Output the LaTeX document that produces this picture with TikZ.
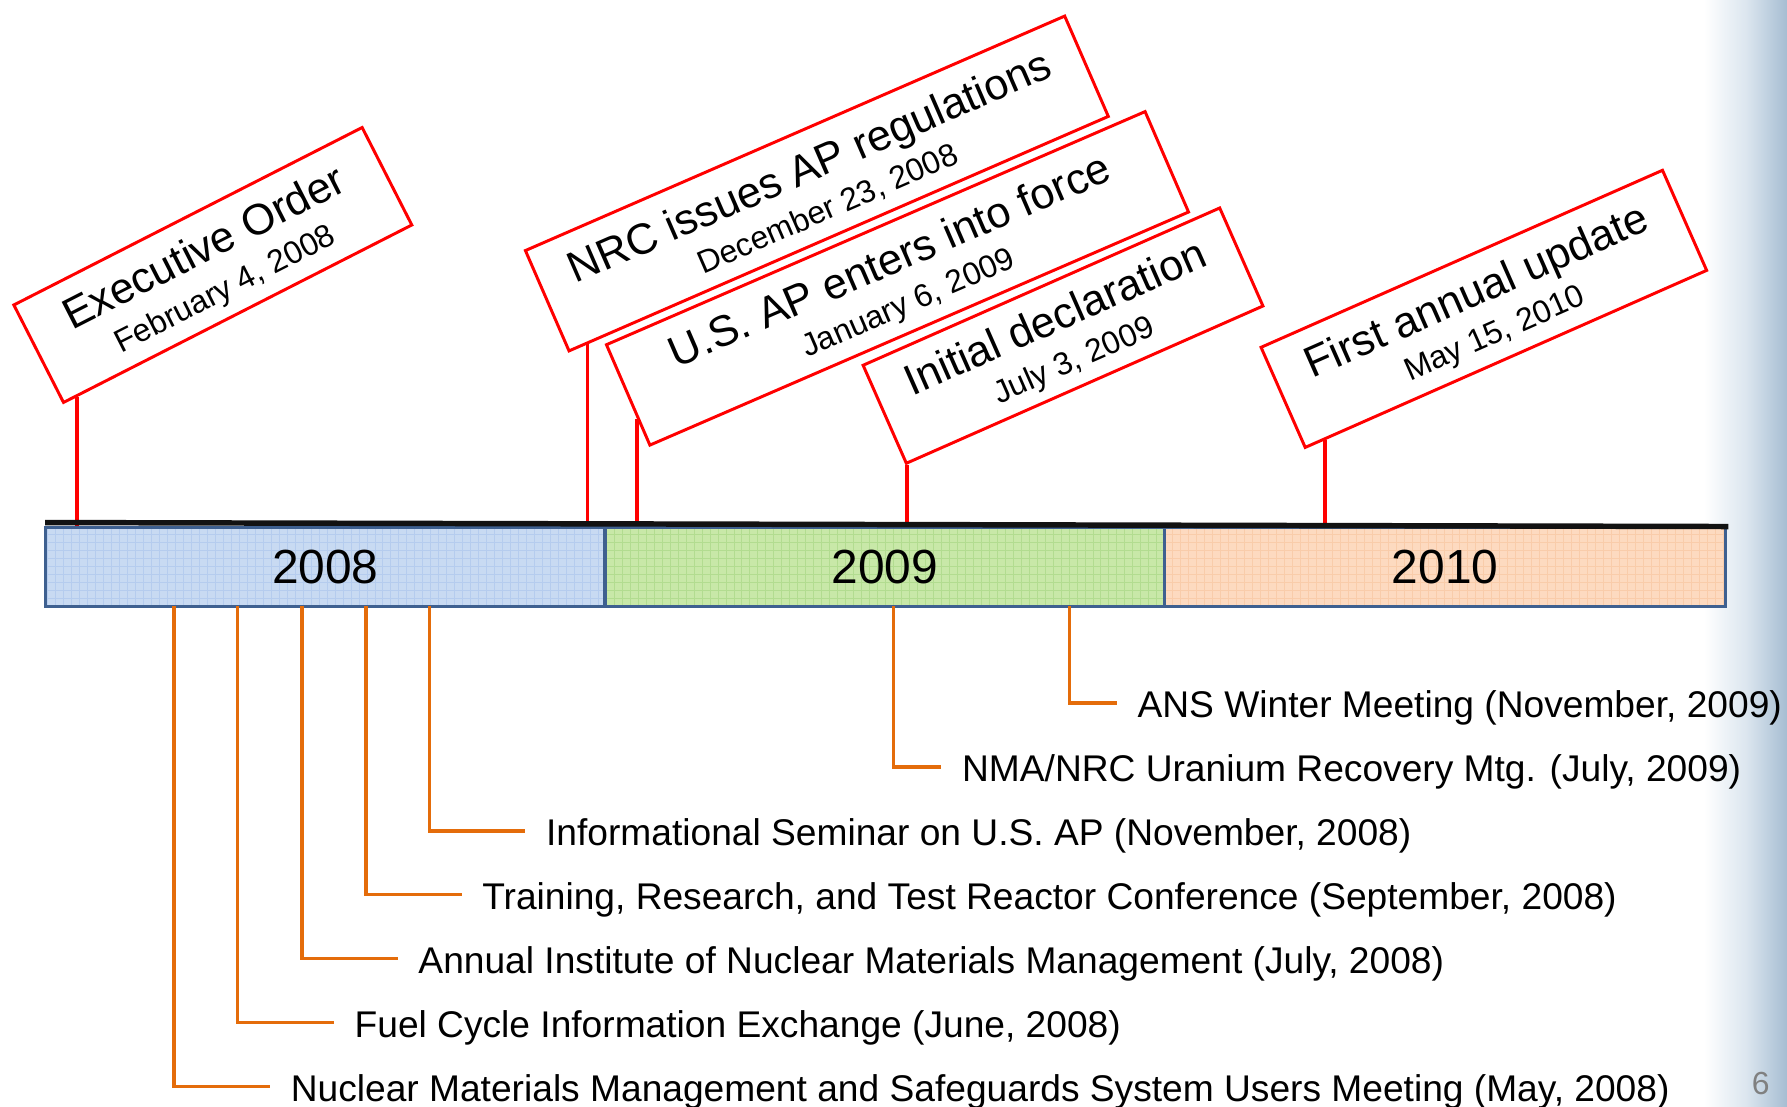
\documentclass[tikz,border=0pt]{standalone}
\usepackage{fontspec}
\setmainfont{Liberation Sans}
\usetikzlibrary{calc}
\definecolor{evred}{HTML}{FF0000}
\definecolor{evorange}{HTML}{E46C0A}
\definecolor{barblue}{HTML}{3E6090}
\definecolor{fillA}{HTML}{C8DAF2}
\definecolor{gridA}{HTML}{B5CCEE}
\definecolor{fillB}{HTML}{C8E8A8}
\definecolor{gridB}{HTML}{B2DC90}
\definecolor{fillC}{HTML}{FDDAC0}
\definecolor{gridC}{HTML}{F9CCAA}
\definecolor{sideA}{HTML}{DCE6EF}
\definecolor{sideB}{HTML}{A6BDD2}
\newcommand\boxlines[2]{{\fontsize{38}{37}\selectfont #1}\\#2}
\begin{document}
\begin{tikzpicture}[x=1pt,y=-1pt,
  evbox/.style={draw=evred, line width=2.6pt, fill=white, minimum height=96pt, inner sep=0pt},
  boxtext/.style={inner sep=0pt, align=center, font=\fontsize{28}{37}\selectfont},
  stemline/.style={draw=evred, line width=3pt},
  yearbox/.style={draw=barblue, line width=3pt, minimum height=69pt, minimum width=491pt, inner sep=0pt, font=\fontsize{42}{42}\selectfont},
  evtext/.style={anchor=west, inner xsep=18pt, inner ysep=0pt, text height=26pt, text depth=0pt, font=\fontsize{32.6}{32.6}\selectfont},
  conn/.style={draw=evorange, line width=3pt},
  gridline/.style={line width=0.8pt},
]
\useasboundingbox (0,0) rectangle (1568,971);
\fill[white] (0,0) rectangle (1568,971);
% side gradient
\shade[left color=white, right color=sideA] (1495,0) rectangle (1532,971);
\shade[left color=sideA, right color=sideB] (1532,0) rectangle (1568,971);

% bar fills
\fill[fillA] (40,463) rectangle (531,532);
\draw[gridA, gridline] (40,463) grid[step=7pt] (531,532);
\fill[fillB] (531,463) rectangle (1022,532);
\draw[gridB, gridline] (531,463) grid[step=7pt] (1022,532);
\fill[fillC] (1022,463) rectangle (1514,532);
\draw[gridC, gridline] (1022,463) grid[step=7pt] (1514,532);

\node[yearbox] (y2008) at (285.5,497.5) {2008};
\node[yearbox] (y2009) at (776.5,497.5) {2009};
\node[yearbox, minimum width=492pt] (y2010) at (1268,497.5) {2010};

% lower events
\node[evtext] (ev7) at (980,617) {ANS Winter Meeting (November, 2009)};
\node[evtext] (ev6) at (826,673) {NMA/NRC Uranium Recovery Mtg. (July, 2009)};
\node[evtext] (ev5) at (461,729) {Informational Seminar on U.S. AP (November, 2008)};
\node[evtext] (ev4) at (405,785) {Training, Research, and Test Reactor Conference (September, 2008)};
\node[evtext] (ev3) at (349,841) {Annual Institute of Nuclear Materials Management (July, 2008)};
\node[evtext] (ev2) at (293,897) {Fuel Cycle Information Exchange (June, 2008)};
\node[evtext] (ev1) at (237,953.5) {Nuclear Materials Management and Safeguards System Users Meeting (May, 2008)};

\coordinate (b1) at (152.6,532);
\coordinate (b2) at (208.5,532);
\coordinate (b3) at (265,532);
\coordinate (b4) at (321,532);
\coordinate (b5) at (377,532);
\coordinate (b6) at (784.2,532);
\coordinate (b7) at (938.5,532);
\draw[conn] (b1) |- (ev1.west);
\draw[conn] (b2) |- (ev2.west);
\draw[conn] (b3) |- (ev3.west);
\draw[conn] (b4) |- (ev4.west);
\draw[conn] (b5) |- (ev5.west);
\draw[conn] (b6) |- (ev6.west);
\draw[conn] (b7) |- (ev7.west);

% upper event boxes
\node[evbox, rotate=27, minimum width=343pt] (exec) at (186.75,232.5) {};
\node[evbox, rotate=23.5, minimum width=516pt] (nrc) at (716.75,161) {};
\node[evbox, rotate=23.4, minimum width=515pt] (usap) at (787.5,244.25) {};
\node[evbox, rotate=23.8, minimum width=342pt, minimum height=94pt] (init) at (932.75,294.5) {};
\node[evbox, rotate=23.8, minimum width=385pt] (first) at (1302,271) {};

\node[boxtext, rotate=27] (execT) at ($(exec.center)!3pt!(exec.south)$) {\boxlines{Executive Order}{February 4, 2008}};
\node[boxtext, rotate=23.5] (nrcT) at ($(nrc.center)!3pt!(nrc.south)$) {\boxlines{NRC issues AP regulations}{December 23, 2008}};
\node[boxtext, rotate=23.4] (usapT) at ($(usap.center)!3pt!(usap.south)$) {\boxlines{U.S. AP enters into force}{January 6, 2009}};
\node[boxtext, rotate=23.8] (initT) at ($(init.center)!3pt!(init.south)$) {\boxlines{Initial declaration}{July 3, 2009}};
\node[boxtext, rotate=23.8] (firstT) at ($(first.center)!3pt!(first.south)$) {\boxlines{First annual update}{May 15, 2010}};

\coordinate (eTop) at ($(exec.south west)!0.04!(exec.south east)$);
\coordinate (nTop) at ($(nrc.south west)!0.036!(nrc.south east)$);
\coordinate (uTop) at ($(usap.north west)!0.726!(usap.south west)$);
\coordinate (iTop) at ($(init.south west)!0.004!(init.south east)$);
\coordinate (fTop) at ($(first.south west)!0.051!(first.south east)$);
\draw[stemline] (eTop) -- (eTop |- y2008.north);
\draw[stemline] (nTop) -- (nTop |- y2008.north);
\draw[stemline] (uTop) -- (uTop |- y2009.north);
\draw[stemline] (iTop) -- (iTop |- y2009.north);
\draw[stemline] (fTop) -- (fTop |- y2010.north);

% black timeline
\coordinate (tlL) at (39.5,458.5);
\coordinate (tlR) at (1516.5,462);
\draw[line width=4.8pt, black!93] (tlL) -- (tlR);

\node[text=black!50, font=\fontsize{28}{28}\selectfont] (pnum) at (1545,951) {6};
\end{tikzpicture}
\end{document}
